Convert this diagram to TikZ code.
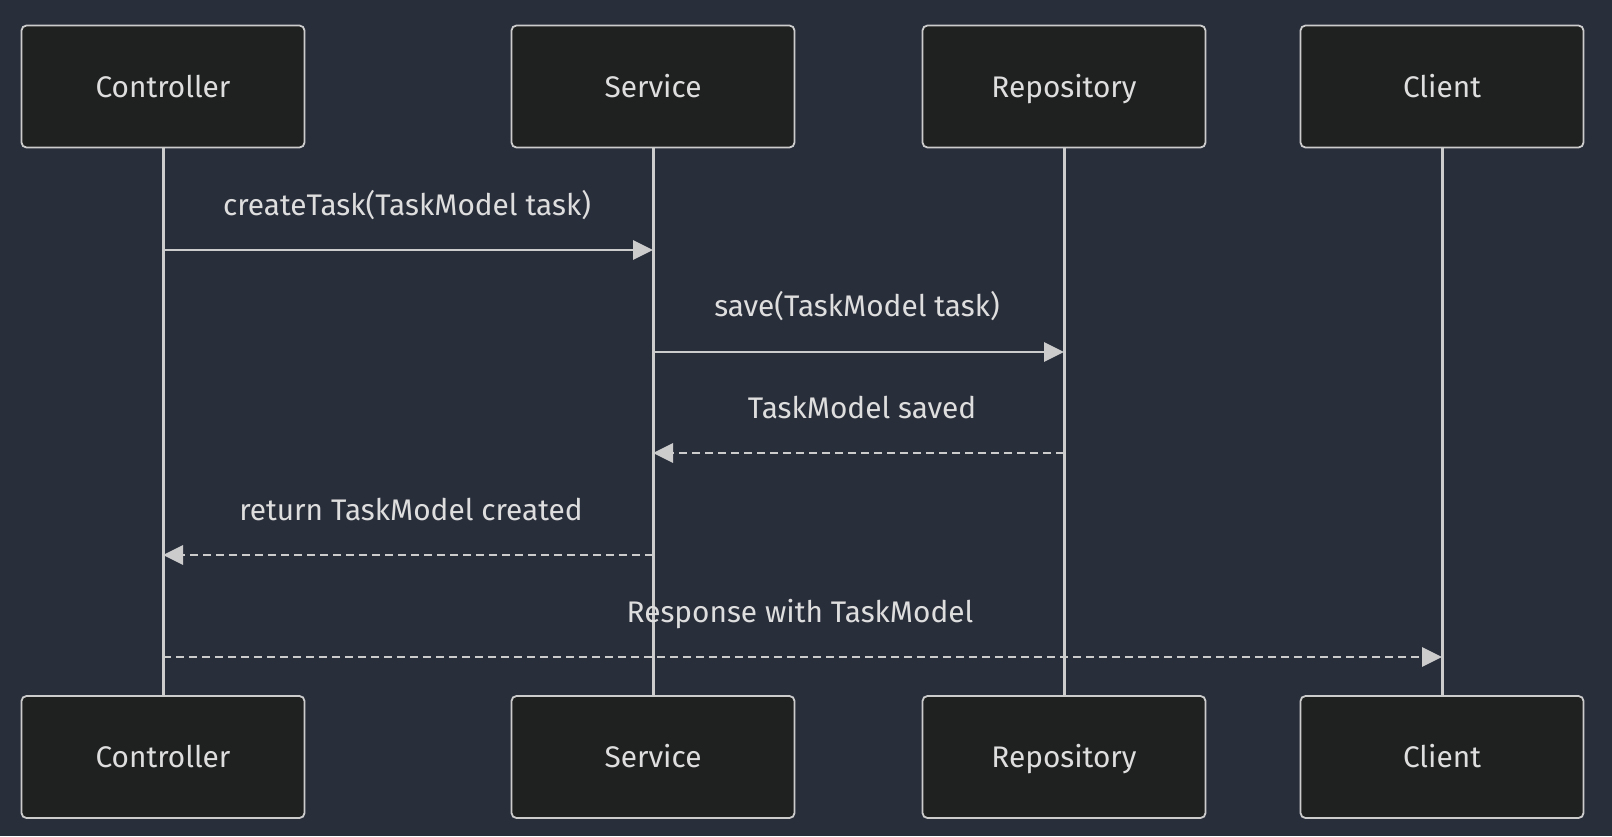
\documentclass[tikz,border=0pt]{standalone}
\usepackage{fontspec}
\setmainfont{Fira Sans}
\usetikzlibrary{arrows.meta}
\definecolor{bg}{RGB}{41,46,59}
\definecolor{boxfill}{RGB}{31,32,32}
\definecolor{fg}{RGB}{204,204,204}
\definecolor{txt}{RGB}{222,222,222}
\begin{document}
\begin{tikzpicture}[x=1pt,y=-1pt,
  actor/.style={draw=fg,fill=boxfill,line width=1.8pt,rounded corners=5pt,minimum width=283pt,minimum height=122pt,inner sep=0pt,text height=21pt,text depth=0pt,text=txt,font=\fontsize{29.8}{34}\selectfont},
  life/.style={draw=fg,line width=3pt},
  msg/.style={draw=fg,line width=2.8pt,-{Triangle[length=20pt,width=19pt,fill=fg]}},
  reply/.style={msg,dash pattern=on 8pt off 5pt},
  lbl/.style={text=txt,font=\fontsize{29.8}{34}\selectfont,inner sep=0pt,text height=21pt,text depth=0pt}]
\fill[bg] (0,0) rectangle (1612,836);
\useasboundingbox (0,0) rectangle (1612,836);
% lifelines
\draw[life] (163,148) -- (163,696);
\draw[life] (653,148) -- (653,696);
\draw[life] (1064,148) -- (1064,696);
\draw[life] (1442,148) -- (1442,696);
% actors
\node[actor] (c1) at (163,86.5) {Controller};
\node[actor] (s1) at (653,86.5) {Service};
\node[actor] (r1) at (1064,86.5) {Repository};
\node[actor] (k1) at (1442,86.5) {Client};
\node[actor] (c2) at (163,757) {Controller};
\node[actor] (s2) at (653,757) {Service};
\node[actor] (r2) at (1064,757) {Repository};
\node[actor] (k2) at (1442,757) {Client};
% message anchors
\coordinate (m1a) at (163,250); \coordinate (m1b) at (653,250);
\coordinate (m2a) at (653,352); \coordinate (m2b) at (1064,352);
\coordinate (m3a) at (1064,453); \coordinate (m3b) at (653,453);
\coordinate (m4a) at (653,555); \coordinate (m4b) at (163,555);
\coordinate (m5a) at (163,657); \coordinate (m5b) at (1442,657);
\draw[msg] (m1a) -- (m1b);
\draw[msg] (m2a) -- (m2b);
\draw[reply] (m3a) -- (m3b);
\draw[reply] (m4a) -- (m4b);
\draw[reply] (m5a) -- (m5b);
\node[lbl] (l1) at (407,205) {createTask(TaskModel task)};
\node[lbl] (l2) at (857,306) {save(TaskModel task)};
\node[lbl] (l3) at (862,408) {TaskModel saved};
\node[lbl] (l4) at (411,510) {return TaskModel created};
\node[lbl] (l5) at (800,612) {Response with TaskModel};
\end{tikzpicture}
\end{document}
